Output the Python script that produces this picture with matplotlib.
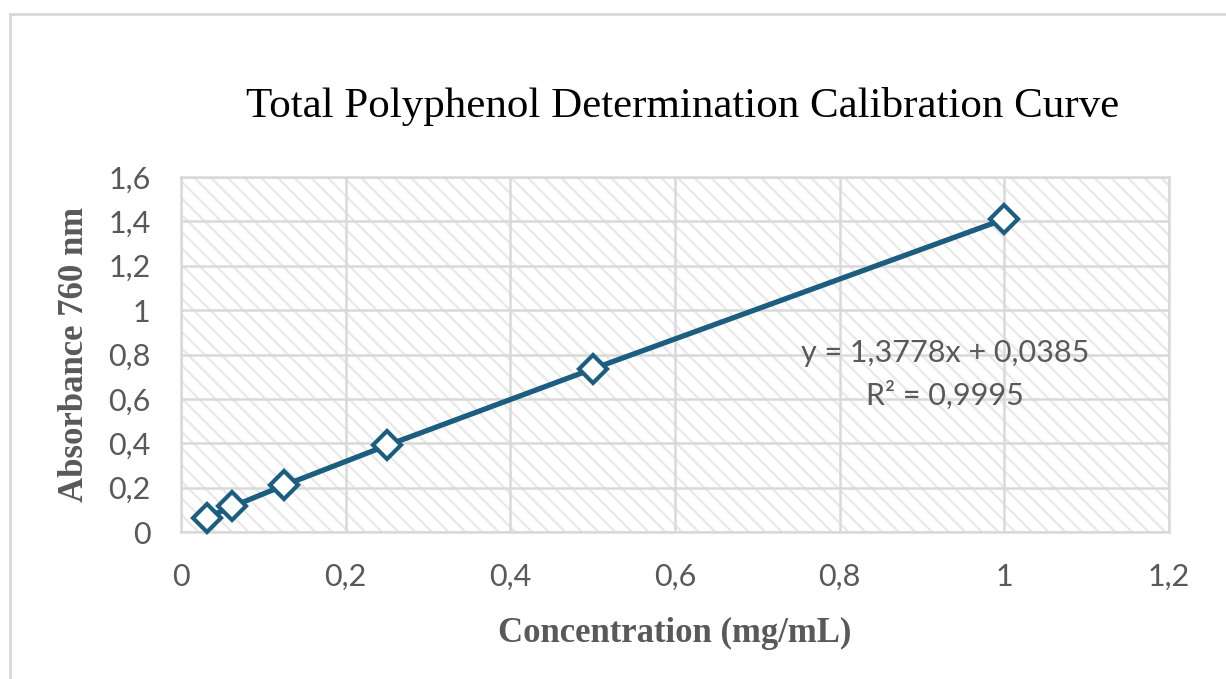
import matplotlib
matplotlib.use("Agg")
import matplotlib.pyplot as plt
from matplotlib.patches import Rectangle
from matplotlib.ticker import FixedLocator, FixedFormatter

# calibration data
concentration = [0.03125, 0.0625, 0.125, 0.25, 0.5, 1.0]
absorbance = [0.065, 0.115, 0.21, 0.39, 0.735, 1.41]

x_ticks = [0, 0.2, 0.4, 0.6, 0.8, 1.0, 1.2]
x_tick_labels = ["0", "0,2", "0,4", "0,6", "0,8", "1", "1,2"]
y_ticks = [0, 0.2, 0.4, 0.6, 0.8, 1.0, 1.2, 1.4, 1.6]
y_tick_labels = ["0", "0,2", "0,4", "0,6", "0,8", "1", "1,2", "1,4", "1,6"]

equation = "y = 1,3778x + 0,0385"
r_squared = "R² = 0,9995"

line_color = "#1b5e80"
text_grey = "#595959"
grid_grey = "#d9d9d9"

plt.rcParams["hatch.linewidth"] = 1.6

fig = plt.figure(figsize=(12.26, 6.79), dpi=100)

# outer chart frame (only top and left edges visible in the crop)
fig.add_artist(plt.Line2D([10 / 1226, 10 / 1226], [0, 1 - 14 / 679],
                          transform=fig.transFigure, color="#d9d9d9", lw=2))
fig.add_artist(plt.Line2D([10 / 1226, 1], [1 - 14 / 679, 1 - 14 / 679],
                          transform=fig.transFigure, color="#d9d9d9", lw=2))

ax = fig.add_axes([181 / 1226, 1 - 532 / 679, 988 / 1226, 355 / 679])
ax.set_xlim(0, 1.2)
ax.set_ylim(0, 1.6)

# hatched plot area
ax.add_patch(Rectangle((0, 0), 1, 1, transform=ax.transAxes, facecolor="white",
                       edgecolor="#e8e8e8", hatch="\\\\", lw=0, zorder=0))

ax.xaxis.set_major_locator(FixedLocator(x_ticks))
ax.xaxis.set_major_formatter(FixedFormatter(x_tick_labels))
ax.yaxis.set_major_locator(FixedLocator(y_ticks))
ax.yaxis.set_major_formatter(FixedFormatter(y_tick_labels))

ax.grid(True, color=grid_grey, lw=1.8, zorder=1)
ax.set_axisbelow(True)
for s in ax.spines.values():
    s.set_color(grid_grey)
    s.set_linewidth(1.8)

ax.tick_params(length=0, labelsize=22, labelcolor=text_grey, pad=22)
for lbl in ax.get_xticklabels() + ax.get_yticklabels():
    lbl.set_family("Lato")

ax.plot(concentration, absorbance, color=line_color, lw=3.8, marker="D",
        markersize=14, markerfacecolor="white", markeredgecolor=line_color,
        markeredgewidth=3, zorder=3, clip_on=False)

ax.text(0.928, 0.807, equation, ha="center", va="center", fontsize=22,
        color=text_grey, family="Lato", zorder=4)
ax.text(0.928, 0.617, r_squared, ha="center", va="center", fontsize=22,
        color=text_grey, family="Lato", zorder=4)

fig.text(683 / 1226, 1 - 107 / 679, "Total Polyphenol Determination Calibration Curve",
         ha="center", va="center", fontsize=31, family="Liberation Serif",
         color="black")

ax.set_xlabel("Concentration (mg/mL)", fontsize=25, family="Liberation Serif",
              fontweight="bold", color=text_grey, labelpad=19)
ax.set_ylabel("Absorbance 760 nm", fontsize=25, family="Liberation Serif",
              fontweight="bold", color=text_grey, labelpad=12)

fig.savefig("out.png", dpi=100)
